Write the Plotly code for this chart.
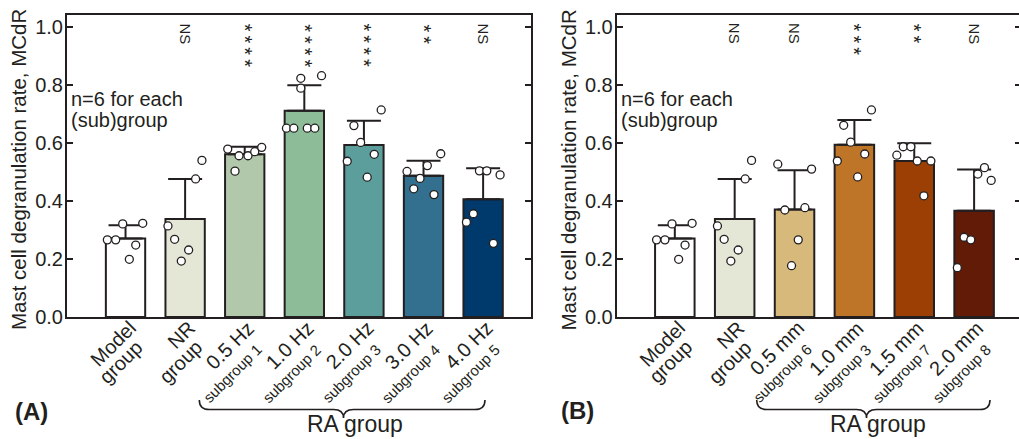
import plotly.graph_objects as go

# ---------------- data ----------------
a_main = ["Model", "NR", "0.5 Hz", "1.0 Hz", "2.0 Hz", "3.0 Hz", "4.0 Hz"]
a_sub = ["group", "group", "subgroup 1", "subgroup 2", "subgroup 3", "subgroup 4", "subgroup 5"]
a_means = [0.271, 0.338, 0.561, 0.711, 0.593, 0.487, 0.406]
a_sd = [0.045, 0.138, 0.026, 0.088, 0.084, 0.052, 0.107]
a_sig = ["", "NS", "****", "****", "****", "**", "NS"]
a_colors = ["#ffffff", "#e4e7d5", "#b1c8ab", "#8dbd98", "#5c9e9c", "#33708f", "#003a6c"]
a_points = [
    [0.266, 0.266, 0.248, 0.199, 0.321, 0.323],
    [0.314, 0.268, 0.231, 0.193, 0.476, 0.540],
    [0.579, 0.503, 0.556, 0.556, 0.570, 0.585],
    [0.651, 0.651, 0.651, 0.651, 0.823, 0.832, 0.789],
    [0.660, 0.602, 0.561, 0.537, 0.482, 0.714],
    [0.502, 0.478, 0.522, 0.442, 0.422, 0.563],
    [0.504, 0.504, 0.490, 0.327, 0.356, 0.254],
]
a_jitter = [
    [-0.305, -0.165, 0.171, 0.064, -0.047, 0.289],
    [-0.288, -0.176, 0.059, -0.064, 0.176, 0.282],
    [-0.285, -0.163, -0.096, 0.055, 0.168, 0.285],
    [-0.300, -0.176, 0.050, 0.176, -0.059, 0.289, -0.059],
    [-0.168, -0.055, 0.173, -0.280, 0.055, 0.290],
    [-0.277, -0.059, 0.064, -0.164, 0.176, 0.289],
    [-0.062, 0.062, 0.285, -0.280, -0.163, 0.173],
]

b_main = ["Model", "NR", "0.5 mm", "1.0 mm", "1.5 mm", "2.0 mm"]
b_sub = ["group", "group", "subgroup 6", "subgroup 3", "subgroup 7", "subgroup 8"]
b_means = [0.271, 0.338, 0.371, 0.594, 0.538, 0.366]
b_sd = [0.045, 0.138, 0.135, 0.085, 0.061, 0.143]
b_sig = ["", "NS", "NS", "***", "**", "NS"]
b_colors = ["#ffffff", "#e4e7d5", "#d8b97c", "#bf7527", "#9b3f04", "#621b07"]
b_points = [
    [0.266, 0.266, 0.248, 0.199, 0.321, 0.323],
    [0.314, 0.268, 0.231, 0.193, 0.476, 0.540],
    [0.527, 0.510, 0.369, 0.377, 0.266, 0.177],
    [0.661, 0.714, 0.603, 0.562, 0.538, 0.483],
    [0.587, 0.587, 0.558, 0.538, 0.538, 0.418],
    [0.515, 0.493, 0.471, 0.275, 0.266, 0.170],
]
b_jitter = [
    [-0.305, -0.165, 0.171, 0.064, -0.047, 0.289],
    [-0.288, -0.176, 0.059, -0.064, 0.176, 0.282],
    [-0.280, 0.285, -0.162, 0.173, 0.062, -0.050],
    [-0.179, 0.285, -0.062, 0.173, -0.285, 0.055],
    [-0.184, -0.057, -0.291, 0.050, 0.278, 0.161],
    [0.173, 0.062, 0.285, -0.168, -0.055, -0.280],
]

y_ticks = [0.0, 0.2, 0.4, 0.6, 0.8, 1.0]
y_title = "Mast cell degranulation rate, MCdR"
n_note = ["n=6 for each", "(sub)group"]
group_label = ["RA", "group"]

# ---------------- layout helpers ----------------
W, H = 1019, 439
INK = "#231f20"
FONT = "Liberation Sans, Arial, sans-serif"


def px(x):
    return x / W


def py(y):
    return 1 - y / H


fig = go.Figure()


def add_panel(xa, ya, means, sd, colors, points, jitter):
    idx = list(range(len(means)))
    fig.add_trace(go.Bar(
        x=idx, y=means, width=0.66, xaxis=xa, yaxis=ya,
        marker=dict(color=colors, line=dict(color=INK, width=2)),
        error_y=dict(type="data", array=sd, arrayminus=[0] * len(sd), symmetric=False,
                     color=INK, thickness=2, width=17),
        showlegend=False, hoverinfo="skip",
    ))
    xs, ys = [], []
    for i, (vals, jit) in enumerate(zip(points, jitter)):
        for v, j in zip(vals, jit):
            xs.append(i + j)
            ys.append(v)
    fig.add_trace(go.Scatter(
        x=xs, y=ys, mode="markers", xaxis=xa, yaxis=ya,
        marker=dict(symbol="circle", size=8, color="white", line=dict(color=INK, width=1.3)),
        showlegend=False, hoverinfo="skip",
    ))


add_panel("x", "y", a_means, a_sd, a_colors, a_points, a_jitter)
add_panel("x2", "y2", b_means, b_sd, b_colors, b_points, b_jitter)

# invisible helpers for the right-side tick axes
fig.add_trace(go.Scatter(x=[0], y=[0], xaxis="x", yaxis="y3", mode="markers",
                         marker=dict(opacity=0), showlegend=False, hoverinfo="skip"))
fig.add_trace(go.Scatter(x=[0], y=[0], xaxis="x2", yaxis="y4", mode="markers",
                         marker=dict(opacity=0), showlegend=False, hoverinfo="skip"))

yr = [0, 1.0414]
ycommon = dict(range=yr, tickvals=y_ticks, tickformat=".1f", ticks="inside", ticklen=6,
               tickwidth=1.5, tickcolor=INK, showline=True, linecolor=INK, linewidth=2,
               showgrid=False, zeroline=False, automargin=False, ticklabelstandoff=-2,
               tickfont=dict(family=FONT, size=20, color=INK), domain=[py(317), py(15)])
xcommon = dict(showline=True, linecolor=INK, linewidth=2, mirror=True, ticks="",
               showgrid=False, zeroline=False, automargin=False, showticklabels=False)

fig.update_layout(
    width=W, height=H, margin=dict(l=0, r=0, t=0, b=0),
    paper_bgcolor="white", plot_bgcolor="white", template="none",
    xaxis=dict(xcommon, domain=[px(67), px(530.5)], range=[-0.982, 6.795], anchor="y"),
    yaxis=dict(ycommon, anchor="x"),
    yaxis3=dict(ycommon, overlaying="y", side="right", anchor="x", showticklabels=False),
    xaxis2=dict(xcommon, domain=[px(616.7), 1.0], range=[-0.971, 5.75], anchor="y2"),
    yaxis2=dict(ycommon, anchor="x2"),
    yaxis4=dict(ycommon, overlaying="y2", side="right", anchor="x2", showticklabels=False,
                showline=False, ticklen=4),
)

ann = []


def text_ann(**kw):
    base = dict(showarrow=False, borderpad=0, borderwidth=0)
    base.update(kw)
    ann.append(base)


for xa, sig, main, sub in (("x", a_sig, a_main, a_sub), ("x2", b_sig, b_main, b_sub)):
    # significance marks
    for i, s in enumerate(sig):
        if not s:
            continue
        if s == "NS":
            text_ann(x=i, xref=xa, y=py(23), yref="paper", text=s, textangle=90,
                     xanchor="center", yanchor="top",
                     font=dict(family=FONT, size=15, color=INK))
        else:
            text_ann(x=i, xref=xa, y=py(24), yref="paper", text="\u2009".join(s),
                     textangle=90, xanchor="center", yanchor="top",
                     font=dict(family=FONT, size=20, color=INK))
    # rotated category labels
    for i, (m, s) in enumerate(zip(main, sub)):
        text_ann(x=i, xref=xa, xshift=14, y=py(317), yref="paper", text=m, textangle=-45,
                 xanchor="right", yanchor="top", font=dict(family=FONT, size=20, color=INK))
        if s.startswith("subgroup"):
            text_ann(x=i, xref=xa, xshift=20, y=py(341), yref="paper", text=s,
                     textangle=-45, xanchor="right", yanchor="top",
                     font=dict(family=FONT, size=15, color=INK))
        else:
            text_ann(x=i, xref=xa, xshift=21, y=py(336), yref="paper", text=s,
                     textangle=-45, xanchor="right", yanchor="top",
                     font=dict(family=FONT, size=20, color=INK))

for x0, xtit in ((67, 18), (616.7, 567.5)):
    text_ann(x=px(xtit), y=py(170), xref="paper", yref="paper", text=y_title,
             textangle=-90, xanchor="center", yanchor="middle",
             font=dict(family=FONT, size=20.5, color=INK))
    text_ann(x=px(x0 + 4), y=py(99), xref="paper", yref="paper", text=n_note[0],
             xanchor="left", yanchor="middle", font=dict(family=FONT, size=20, color=INK))
    text_ann(x=px(x0 + 4), y=py(120), xref="paper", yref="paper", text=n_note[1],
             xanchor="left", yanchor="middle", font=dict(family=FONT, size=20, color=INK))

text_ann(x=px(31.5), y=py(411.5), xref="paper", yref="paper", text="<b>(A)</b>",
         xanchor="center", yanchor="middle", font=dict(family=FONT, size=24, color=INK))
text_ann(x=px(577.5), y=py(410), xref="paper", yref="paper", text="<b>(B)</b>",
         xanchor="center", yanchor="middle", font=dict(family=FONT, size=24, color=INK))

shapes = []
for xl, xt, xr in ((199.3, 343.5, 485), (756.7, 866.5, 990)):
    ytop, ymid, ytip, r = 400, 409.5, 418, 10
    path = (f"M {px(xl)},{py(ytop)} Q {px(xl)},{py(ymid)} {px(xl + r)},{py(ymid)} "
            f"L {px(xt - r)},{py(ymid)} Q {px(xt)},{py(ymid)} {px(xt)},{py(ytip)} "
            f"Q {px(xt)},{py(ymid)} {px(xt + r)},{py(ymid)} "
            f"L {px(xr - r)},{py(ymid)} Q {px(xr)},{py(ymid)} {px(xr)},{py(ytop)}")
    shapes.append(dict(type="path", path=path, xref="paper", yref="paper",
                       line=dict(color=INK, width=1.6)))
    text_ann(x=px(xt - 4), y=py(424), xref="paper", yref="paper", text=group_label[0],
             xanchor="right", yanchor="middle", font=dict(family=FONT, size=23, color=INK))
    text_ann(x=px(xt + 0), y=py(424), xref="paper", yref="paper", text=group_label[1],
             xanchor="left", yanchor="middle", font=dict(family=FONT, size=23, color=INK))

fig.update_layout(annotations=ann, shapes=shapes)
fig.write_html("out.html")
